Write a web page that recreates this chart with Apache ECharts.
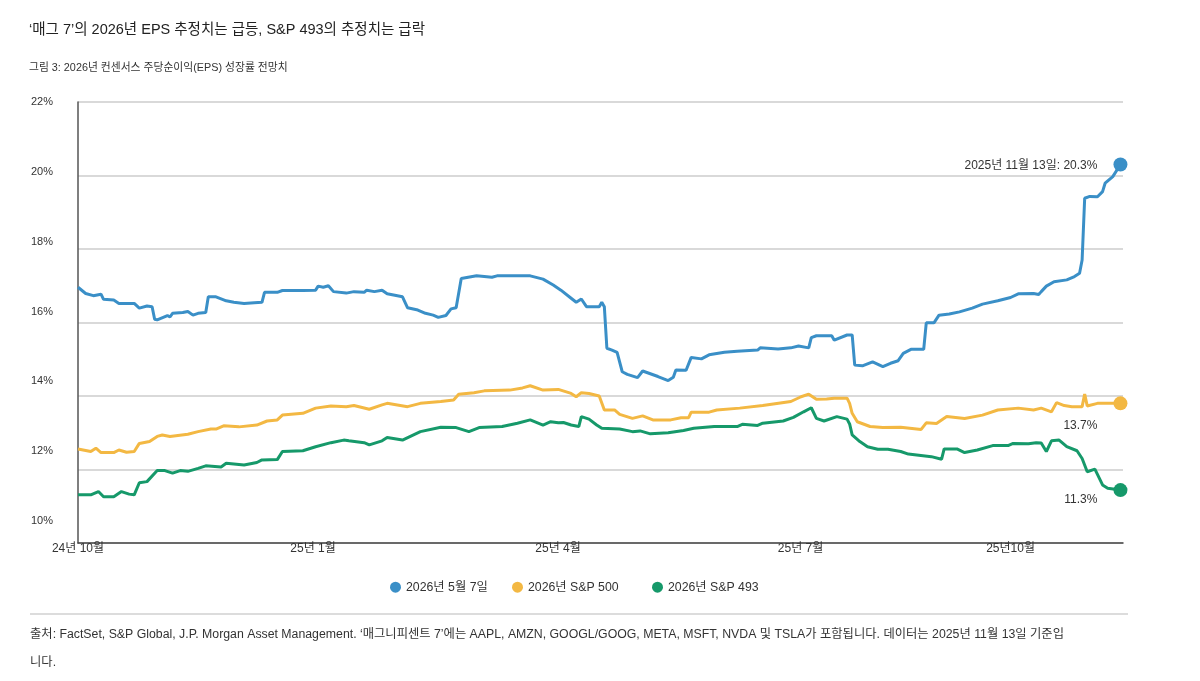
<!DOCTYPE html>
<html lang="ko">
<head>
    <meta charset="UTF-8">
    <title>2026년 EPS 성장률 전망치</title>
    <script src="https://cdn.jsdelivr.net/npm/echarts@6.0.0/dist/echarts.min.js"></script>
    <style>
        html, body { margin: 0; padding: 0; background: #fff; }
        #chart { width: 1200px; height: 681px; }
    </style>
</head>
<body>
    <div id="chart"></div>
    <script>
        // 제목, 주석
        var titleText = '‘매그 7’의 2026년 EPS 추정치는 급등, S&P 493의 추정치는 급락';
        var subtitleText = '그림 3: 2026년 컨센서스 주당순이익(EPS) 성장률 전망치';
        var footnoteText = '출처: FactSet, S&P Global, J.P. Morgan Asset Management. ‘매그니피센트 7’에는 AAPL, AMZN, GOOGL/GOOG, META, MSFT, NVDA 및 TSLA가 포함됩니다. 데이터는 2025년 11월 13일 기준입\n니다.';

        var legendNames = ['2026년 5월 7일', '2026년 S&P 500', '2026년 S&P 493'];
        var endLabels = ['2025년 11월 13일: 20.3%', '13.7%', '11.3%'];
        var xTickLabels = ['24년 10월', '25년 1월', '25년 4월', '25년 7월', '25년10월'];

        // 매그 7
        var magDates = ['2024-10-01','2024-10-04','2024-10-07','2024-10-10','2024-10-11','2024-10-15','2024-10-17','2024-10-23','2024-10-25','2024-10-28',
            '2024-10-30','2024-10-31','2024-11-01','2024-11-05','2024-11-06','2024-11-07','2024-11-11','2024-11-13','2024-11-15','2024-11-17',
            '2024-11-20','2024-11-21','2024-11-24','2024-11-28','2024-12-01','2024-12-05','2024-12-09','2024-12-12','2024-12-13','2024-12-18',
            '2024-12-20','2024-12-28','2025-01-02','2025-01-03','2025-01-05','2025-01-07','2025-01-09','2025-01-14','2025-01-17','2025-01-21',
            '2025-01-22','2025-01-25','2025-01-28','2025-01-30','2025-02-05','2025-02-07','2025-02-11','2025-02-14','2025-02-17','2025-02-19',
            '2025-02-22','2025-02-24','2025-02-26','2025-02-28','2025-03-06','2025-03-12','2025-03-14','2025-03-27','2025-04-01','2025-04-05',
            '2025-04-08','2025-04-12','2025-04-14','2025-04-16','2025-04-18','2025-04-23','2025-04-24','2025-04-25','2025-04-26','2025-04-28',
            '2025-04-30','2025-05-02','2025-05-04','2025-05-08','2025-05-10','2025-05-16','2025-05-20','2025-05-22','2025-05-23','2025-05-27',
            '2025-05-29','2025-06-02','2025-06-05','2025-06-11','2025-06-16','2025-06-24','2025-06-25','2025-07-02','2025-07-07','2025-07-10',
            '2025-07-14','2025-07-15','2025-07-17','2025-07-23','2025-07-24','2025-07-29','2025-07-31','2025-08-01','2025-08-04','2025-08-08',
            '2025-08-12','2025-08-15','2025-08-18','2025-08-20','2025-08-23','2025-08-28','2025-08-29','2025-09-01','2025-09-03','2025-09-07',
            '2025-09-11','2025-09-16','2025-09-20','2025-09-26','2025-10-01','2025-10-04','2025-10-10','2025-10-12','2025-10-13','2025-10-15',
            '2025-10-18','2025-10-23','2025-10-26','2025-10-28','2025-10-29','2025-10-30','2025-11-01','2025-11-04','2025-11-06','2025-11-07',
            '2025-11-10','2025-11-13'];
        var magValues = [16.96,16.79,16.73,16.77,16.63,16.61,16.52,16.52,16.39,16.45,
            16.43,16.09,16.07,16.19,16.15,16.25,16.27,16.30,16.20,16.25,
            16.27,16.70,16.70,16.59,16.55,16.52,16.54,16.55,16.82,16.82,
            16.87,16.87,16.88,16.99,16.96,17.00,16.84,16.80,16.84,16.82,
            16.88,16.84,16.88,16.78,16.70,16.40,16.34,16.25,16.20,16.14,
            16.19,16.37,16.40,17.20,17.27,17.23,17.27,17.27,17.18,17.02,
            16.88,16.66,16.55,16.64,16.43,16.43,16.55,16.43,15.30,15.25,
            15.19,14.66,14.59,14.50,14.68,14.53,14.42,14.51,14.71,14.70,
            15.05,15.01,15.12,15.19,15.22,15.25,15.31,15.28,15.31,15.36,
            15.31,15.59,15.64,15.64,15.52,15.66,15.66,14.84,14.82,14.93,
            14.80,14.89,14.96,15.16,15.27,15.27,15.99,15.99,16.20,16.23,
            16.29,16.39,16.50,16.59,16.68,16.78,16.79,16.76,16.84,16.99,
            17.11,17.16,17.25,17.34,17.70,19.38,19.43,19.42,19.56,19.79,
            19.97,20.30];

        // S&P 500
        var sp500Dates = ['2024-10-01','2024-10-06','2024-10-08','2024-10-10','2024-10-15','2024-10-17','2024-10-20','2024-10-23','2024-10-25','2024-10-29',
            '2024-11-01','2024-11-03','2024-11-06','2024-11-13','2024-11-17','2024-11-22','2024-11-24','2024-11-27','2024-12-03','2024-12-10',
            '2024-12-14','2024-12-18','2024-12-20','2024-12-28','2025-01-02','2025-01-08','2025-01-14','2025-01-17','2025-01-23','2025-01-28',
            '2025-01-30','2025-02-07','2025-02-12','2025-02-20','2025-02-25','2025-02-27','2025-03-05','2025-03-09','2025-03-19','2025-03-24',
            '2025-03-27','2025-04-01','2025-04-07','2025-04-12','2025-04-14','2025-04-16','2025-04-19','2025-04-23','2025-04-25','2025-04-29',
            '2025-05-01','2025-05-06','2025-05-10','2025-05-14','2025-05-21','2025-05-25','2025-05-28','2025-05-29','2025-06-05','2025-06-08',
            '2025-06-17','2025-06-26','2025-07-07','2025-07-11','2025-07-14','2025-07-17','2025-07-21','2025-07-24','2025-07-29','2025-07-30',
            '2025-07-31','2025-08-02','2025-08-07','2025-08-12','2025-08-19','2025-08-27','2025-08-29','2025-09-02','2025-09-06','2025-09-13',
            '2025-09-20','2025-09-26','2025-10-04','2025-10-10','2025-10-13','2025-10-17','2025-10-19','2025-10-22','2025-10-25','2025-10-29',
            '2025-10-30','2025-10-31','2025-11-04','2025-11-13'];
        var sp500Values = [12.56,12.49,12.58,12.46,12.46,12.53,12.47,12.49,12.71,12.76,
            12.90,12.94,12.90,12.96,13.03,13.10,13.10,13.19,13.16,13.21,
            13.32,13.35,13.48,13.53,13.67,13.73,13.71,13.74,13.64,13.76,
            13.80,13.71,13.80,13.85,13.89,14.05,14.09,14.14,14.16,14.22,
            14.28,14.16,14.18,14.07,13.98,14.09,14.07,14.00,13.62,13.62,
            13.50,13.39,13.46,13.35,13.35,13.41,13.41,13.56,13.56,13.62,
            13.67,13.74,13.85,13.98,14.05,13.91,13.92,13.94,13.94,13.80,
            13.53,13.30,13.17,13.14,13.15,13.09,13.27,13.25,13.44,13.39,
            13.48,13.62,13.67,13.62,13.67,13.57,13.82,13.74,13.71,13.71,
            14.05,13.73,13.80,13.80];

        // S&P 493
        var sp493Dates = ['2024-10-01','2024-10-06','2024-10-09','2024-10-11','2024-10-15','2024-10-18','2024-10-21','2024-10-23','2024-10-25','2024-10-28',
            '2024-11-01','2024-11-04','2024-11-07','2024-11-10','2024-11-13','2024-11-17','2024-11-20','2024-11-26','2024-11-28','2024-12-05',
            '2024-12-10','2024-12-12','2024-12-18','2024-12-20','2024-12-28','2025-01-02','2025-01-08','2025-01-13','2025-01-15','2025-01-21',
            '2025-01-23','2025-01-28','2025-01-30','2025-02-05','2025-02-12','2025-02-20','2025-02-26','2025-03-03','2025-03-07','2025-03-16',
            '2025-03-22','2025-03-27','2025-04-01','2025-04-04','2025-04-07','2025-04-09','2025-04-12','2025-04-15','2025-04-16','2025-04-19',
            '2025-04-22','2025-04-24','2025-05-01','2025-05-06','2025-05-09','2025-05-13','2025-05-20','2025-05-26','2025-05-30','2025-06-07',
            '2025-06-16','2025-06-18','2025-06-24','2025-06-26','2025-07-04','2025-07-08','2025-07-12','2025-07-15','2025-07-17','2025-07-20',
            '2025-07-25','2025-07-29','2025-07-30','2025-07-31','2025-08-03','2025-08-06','2025-08-10','2025-08-14','2025-08-19','2025-08-22',
            '2025-08-31','2025-09-04','2025-09-05','2025-09-10','2025-09-13','2025-09-18','2025-09-24','2025-09-30','2025-10-02','2025-10-08',
            '2025-10-11','2025-10-13','2025-10-15','2025-10-17','2025-10-20','2025-10-23','2025-10-27','2025-10-29','2025-10-31','2025-11-03',
            '2025-11-06','2025-11-08','2025-11-13'];
        var sp493Values = [11.31,11.31,11.40,11.26,11.26,11.40,11.33,11.31,11.64,11.67,
            11.97,11.97,11.90,11.97,11.95,12.03,12.10,12.07,12.17,12.12,
            12.19,12.26,12.27,12.49,12.51,12.62,12.73,12.80,12.78,12.73,
            12.67,12.78,12.87,12.80,13.03,13.15,13.14,13.03,13.14,13.17,
            13.26,13.35,13.21,13.30,13.27,13.28,13.21,13.17,13.44,13.37,
            13.21,13.12,13.10,13.03,13.05,12.97,13.00,13.06,13.12,13.17,
            13.17,13.23,13.20,13.26,13.32,13.42,13.57,13.68,13.39,13.32,
            13.44,13.37,13.24,12.94,12.76,12.62,12.55,12.55,12.49,12.42,
            12.35,12.28,12.56,12.56,12.46,12.53,12.65,12.65,12.71,12.70,
            12.73,12.72,12.49,12.78,12.80,12.62,12.51,12.30,11.94,12.01,
            11.58,11.49,11.44];

        var FONT = "'Liberation Sans', 'Noto Sans CJK KR', sans-serif";
        var colors = ['#3a8fc7', '#f3b843', '#16996a'];

        function lineSeries(idx, dates, values, labelOffset) {
            var data = dates.map(function (d, i) { return [d, values[i]]; });
            var last = data[data.length - 1];
            return {
                name: legendNames[idx],
                type: 'line',
                data: data,
                showSymbol: false,
                symbol: 'circle',
                lineStyle: { width: 3, color: colors[idx] },
                itemStyle: { color: colors[idx] },
                markPoint: {
                    symbol: 'circle',
                    symbolSize: 14,
                    itemStyle: { color: colors[idx] },
                    label: {
                        show: true,
                        position: 'left',
                        distance: 16,
                        offset: labelOffset,
                        color: '#333',
                        fontSize: 12,
                        fontFamily: FONT,
                        formatter: endLabels[idx]
                    },
                    data: [{ coord: last }]
                }
            };
        }

        var chart = echarts.init(document.getElementById('chart'));
        var legendLeft = [390, 512, 652];

        chart.setOption({
            animation: false,
            backgroundColor: '#fff',
            title: [
                { text: titleText, left: 29, top: 23, padding: 0,
                  textStyle: { fontSize: 14.5, fontWeight: 'normal', color: '#222', fontFamily: FONT } },
                { text: subtitleText, left: 29, top: 63, padding: 0,
                  textStyle: { fontSize: 10.8, fontWeight: 'normal', color: '#333', fontFamily: FONT } }
            ],
            legend: legendNames.map(function (n, i) {
                return {
                    data: [n], left: legendLeft[i], top: 581, padding: 0,
                    icon: 'circle', itemWidth: 11, itemHeight: 11, selectedMode: false,
                    textStyle: { fontSize: 12.3, color: '#333', fontFamily: FONT }
                };
            }),
            grid: { left: 78, right: 77, top: 102, bottom: 138, containLabel: false },
            xAxis: {
                type: 'time',
                min: '2024-10-01',
                max: '2025-11-14',
                minInterval: 91 * 24 * 3600 * 1000,
                maxInterval: 91 * 24 * 3600 * 1000,
                axisLine: { show: true, onZero: false, lineStyle: { color: '#444', width: 1.5 } },
                axisTick: { show: false },
                splitLine: { show: false },
                axisLabel: {
                    margin: 0,
                    fontSize: 12,
                    color: '#333',
                    fontFamily: FONT,
                    hideOverlap: false,
                    formatter: function (value) {
                        var d = new Date(value);
                        var k = (d.getFullYear() - 2024) * 12 + d.getMonth() - 9;
                        if (d.getDate() !== 1 || k % 3 !== 0) return '';
                        var i = k / 3;
                        if (i < 0 || i >= xTickLabels.length) return '';
                        if (i === 2) return '{a|' + xTickLabels[i] + '}';
                        if (i === 3) return '{b|' + xTickLabels[i] + '}';
                        return xTickLabels[i];
                    },
                    rich: {
                        a: { padding: [0, 0, 0, 30], fontSize: 12, color: '#333', fontFamily: FONT },
                        b: { padding: [0, 0, 0, 50], fontSize: 12, color: '#333', fontFamily: FONT }
                    }
                }
            },
            yAxis: [
                {
                    type: 'value', position: 'left', min: 10, max: 22, interval: 2,
                    axisLine: { show: true, lineStyle: { color: '#555', width: 1.5 } },
                    axisTick: { show: false },
                    axisLabel: { show: false },
                    splitLine: { lineStyle: { color: '#cdcdcd', width: 1.5 } }
                },
                {
                    // 눈금 라벨 (원본처럼 격자선과 살짝 어긋남)
                    type: 'value', position: 'left', offset: 0, min: 9.37, max: 22, splitNumber: 6,
                    axisLine: { show: false },
                    axisTick: { show: false },
                    splitLine: { show: false },
                    axisLabel: {
                        margin: 25, fontSize: 11, color: '#333', fontFamily: FONT,
                        formatter: function (v) { return Math.abs(v - Math.round(v)) < 1e-6 && Math.round(v) % 2 === 0 ? Math.round(v) + '%' : ''; }
                    }
                }
            ],
            series: [
                lineSeries(0, magDates, magValues, [0, 1]),
                lineSeries(1, sp500Dates, sp500Values, [0, 22]),
                lineSeries(2, sp493Dates, sp493Values, [0, 10])
            ],
            graphic: [
                { type: 'line', shape: { x1: 30, y1: 614, x2: 1128, y2: 614 },
                  style: { stroke: '#d0d0d0', lineWidth: 1.5 } },
                { type: 'text', left: 30, top: 621,
                  style: { text: footnoteText, fontSize: 12.3, lineHeight: 28, fill: '#333', fontFamily: FONT } }
            ]
        });
    </script>
</body>
</html>
